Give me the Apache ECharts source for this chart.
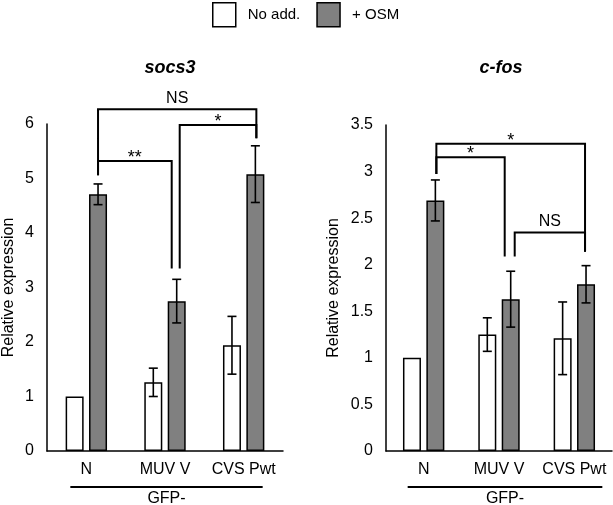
<!DOCTYPE html>
<html><head><meta charset="utf-8">
<script src="https://cdn.jsdelivr.net/npm/echarts@6/dist/echarts.min.js"></script>
<style>html,body{margin:0;padding:0;background:#fff}#c{width:613px;height:505px}</style>
</head><body><div id="c"></div>
<script>
// ---- data ----
const categories = ['N', 'MUV V', 'CVS Pwt'];
const groupLabel = 'GFP-';
const seriesNames = ['No add.', '+ OSM'];
const socs3NoAdd = [1.0, 1.26, 1.94];
const socs3NoAddErr = [0, 0.26, 0.53];
const socs3Osm = [4.71, 2.75, 5.08];
const socs3OsmErr = [0.19, 0.40, 0.52];
const cfosNoAdd = [1.0, 1.25, 1.21];
const cfosNoAddErr = [0, 0.18, 0.39];
const cfosOsm = [2.69, 1.63, 1.79];
const cfosOsmErr = [0.22, 0.30, 0.20];
// significance brackets: [fromCategory, toCategory, topValue, leftLegEndValue, rightLegEndValue]
const socs3Brackets = [[0, 2, 6.27, 5.06, 5.74], [1, 2, 5.98, 3.35, 5.74], [0, 1, 5.32, 5.06, 3.35]];
const socs3BracketLabels = ['NS', '*', '**'];
const cfosBrackets = [[0, 2, 3.30, 2.975, 2.14], [0, 1, 3.155, 2.975, 2.087], [1, 2, 2.345, 2.087, 2.14]];
const cfosBracketLabels = ['*', '*', 'NS'];
const socs3Ticks = {max: 6, interval: 1};
const cfosTicks = {max: 3.5, interval: 0.5};

// ---- styling / layout ----
const FONT = "'Liberation Sans', Arial, sans-serif";
const BAR_W = 18, BAR_GAP = 5.4;
const OFF = (BAR_W + BAR_GAP) / 2;
// small horizontal nudges for bracket legs (px), per bracket [left, right]
const socs3Nudge = [[0, 1], [3, 1], [0, -5]];
const cfosNudge = [[1, -1], [1, -6], [4, -1]];

function errData(vals, errs) {
  return vals.map((v, i) => [i, v + errs[i], v - errs[i], errs[i]]);
}
function errRender(sign) {
  return function (params, api) {
    if (api.value(3) <= 0) return;
    const hi = api.coord([api.value(0), api.value(1)]);
    const lo = api.coord([api.value(0), api.value(2)]);
    const x = hi[0] + sign * OFF;
    const cap = 4.5;
    const st = {stroke: '#000', lineWidth: 1.6, fill: null};
    return {type: 'group', children: [
      {type: 'line', shape: {x1: x, y1: hi[1], x2: x, y2: lo[1]}, style: st},
      {type: 'line', shape: {x1: x - cap, y1: hi[1], x2: x + cap, y2: hi[1]}, style: st},
      {type: 'line', shape: {x1: x - cap, y1: lo[1], x2: x + cap, y2: lo[1]}, style: st}
    ]};
  };
}
function bracketRender(labels, nudge) {
  return function (params, api) {
    const i = params.dataIndex;
    const a = api.value(0), b = api.value(1);
    const top = api.coord([a, api.value(2)])[1];
    const yl = api.coord([a, api.value(3)])[1];
    const yr = api.coord([b, api.value(4)])[1];
    const xl = api.coord([a, 0])[0] + OFF + nudge[i][0];
    const xr = api.coord([b, 0])[0] + OFF + nudge[i][1];
    const lab = labels[i];
    const isStar = lab.indexOf('*') >= 0;
    return {type: 'group', children: [
      {type: 'polyline', shape: {points: [[xl, yl], [xl, top], [xr, top], [xr, yr]]},
       style: {stroke: '#000', lineWidth: 2, fill: null}},
      {type: 'text', x: (xl + xr) / 2, y: top + (isStar ? 6 : -3),
       style: {text: lab, textAlign: 'center', textVerticalAlign: 'bottom',
               font: (isStar ? '18px ' : '16px ') + FONT, fill: '#000'}}
    ]};
  };
}
function groupRender(lOff, rOff) {
  return function (params, api) {
    const base = api.coord([0, 0])[1];
    const x1 = api.coord([api.value(0), 0])[0] + lOff;
    const x2 = api.coord([api.value(1), 0])[0] + rOff;
    return {type: 'group', children: [
      {type: 'line', shape: {x1: x1, y1: base + 36, x2: x2, y2: base + 36}, style: {stroke: '#000', lineWidth: 2.2}},
      {type: 'text', x: (x1 + x2) / 2, y: base + 40,
       style: {text: groupLabel, textAlign: 'center', textVerticalAlign: 'top', font: '16px ' + FONT, fill: '#000'}}
    ]};
  };
}

function axes(idx, ticks, nameGap) {
  return {
    x: {type: 'category', gridIndex: idx, data: categories,
        axisLine: {lineStyle: {color: '#000', width: 1.5}}, axisTick: {show: false},
        axisLabel: {color: '#000', fontSize: 16, fontFamily: FONT, margin: 11, interval: 0}},
    y: {type: 'value', gridIndex: idx, min: 0, max: ticks.max, interval: ticks.interval,
        name: 'Relative expression', nameLocation: 'middle', nameGap: nameGap, nameRotate: 90,
        nameTextStyle: {color: '#000', fontSize: 16, fontFamily: FONT},
        axisLine: {show: true, lineStyle: {color: '#000', width: 1.5}}, axisTick: {show: false},
        splitLine: {show: false},
        axisLabel: {color: '#000', fontSize: 16, fontFamily: FONT, margin: 13}}
  };
}
const a0 = axes(0, socs3Ticks, 30), a1 = axes(1, cfosTicks, 44);

const whiteStyle = {color: '#fff', borderColor: '#000', borderWidth: 1.5};
const greyStyle = {color: '#808080', borderColor: '#000', borderWidth: 1.5};

function barSeries(name, data, idx, style) {
  return {type: 'bar', name: name, xAxisIndex: idx, yAxisIndex: idx, data: data,
          barWidth: BAR_W, barGap: '30%', itemStyle: style, silent: true, animation: false};
}
function errSeries(vals, errs, idx, sign) {
  return {type: 'custom', xAxisIndex: idx, yAxisIndex: idx, data: errData(vals, errs),
          renderItem: errRender(sign), encode: {x: 0, y: [1, 2]}, z: 5, silent: true, animation: false};
}

const chart = echarts.init(document.getElementById('c'), null, {renderer: 'canvas'});
chart.setOption({
  animation: false,
  textStyle: {fontFamily: FONT},
  title: [
    {text: 'socs3', left: 165, top: 54, textAlign: 'center',
     textStyle: {fontStyle: 'italic', fontWeight: 'bold', fontSize: 18, fontFamily: FONT, color: '#000'}},
    {text: 'c-fos', left: 496, top: 54, textAlign: 'center',
     textStyle: {fontStyle: 'italic', fontWeight: 'bold', fontSize: 18, fontFamily: FONT, color: '#000'}}
  ],
  legend: {top: 2, left: 212, padding: 0, itemWidth: 23, itemHeight: 24, itemGap: 16, icon: 'rect',
           selectedMode: false,
           textStyle: {fontSize: 15, fontFamily: FONT, color: '#000', padding: [0, 0, 0, 7]},
           data: [{name: seriesNames[0], itemStyle: whiteStyle}, {name: seriesNames[1], itemStyle: greyStyle}]},
  grid: [
    {left: 43, top: 124, width: 240, height: 327},
    {left: 386, top: 125, width: 226, height: 326}
  ],
  xAxis: [a0.x, a1.x],
  yAxis: [a0.y, a1.y],
  series: [
    barSeries(seriesNames[0], socs3NoAdd, 0, whiteStyle),
    barSeries(seriesNames[1], socs3Osm, 0, greyStyle),
    barSeries(seriesNames[0], cfosNoAdd, 1, whiteStyle),
    barSeries(seriesNames[1], cfosOsm, 1, greyStyle),
    errSeries(socs3NoAdd, socs3NoAddErr, 0, -1),
    errSeries(socs3Osm, socs3OsmErr, 0, 1),
    errSeries(cfosNoAdd, cfosNoAddErr, 1, -1),
    errSeries(cfosOsm, cfosOsmErr, 1, 1),
    {type: 'custom', xAxisIndex: 0, yAxisIndex: 0, data: socs3Brackets, clip: false,
     renderItem: bracketRender(socs3BracketLabels, socs3Nudge), encode: {x: 0, y: 2}, z: 6, silent: true},
    {type: 'custom', xAxisIndex: 1, yAxisIndex: 1, data: cfosBrackets, clip: false,
     renderItem: bracketRender(cfosBracketLabels, cfosNudge), encode: {x: 0, y: 2}, z: 6, silent: true},
    {type: 'custom', xAxisIndex: 0, yAxisIndex: 0, data: [[0, 2]], clip: false,
     renderItem: groupRender(-16, 19), encode: {x: 0}, silent: true},
    {type: 'custom', xAxisIndex: 1, yAxisIndex: 1, data: [[0, 2]], clip: false,
     renderItem: groupRender(-16, 28), encode: {x: 0}, silent: true}
  ]
});
</script></body></html>
